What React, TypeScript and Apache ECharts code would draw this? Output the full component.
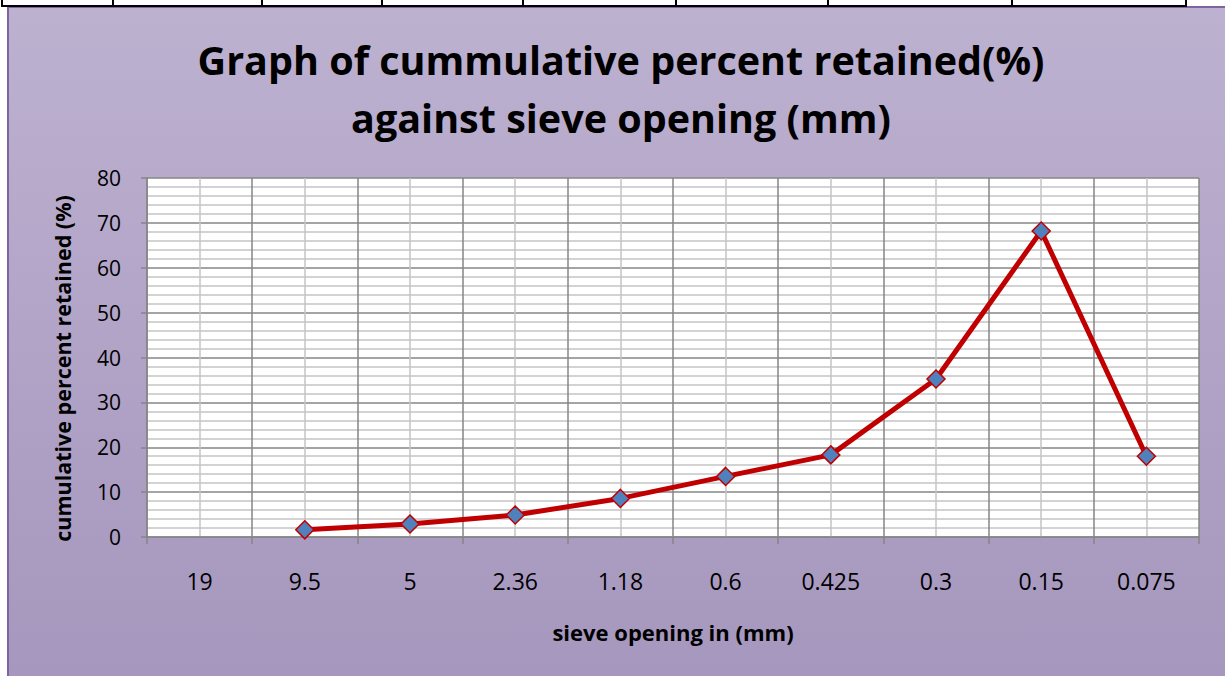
import React, { useEffect, useRef } from "react";
import * as echarts from "echarts";

const categories = ["19", "9.5", "5", "2.36", "1.18", "0.6", "0.425", "0.3", "0.15", "0.075"];
const retained: (number | null)[] = [null, 1.6, 2.9, 4.9, 8.6, 13.5, 18.3, 35.2, 68.2, 18.0];
const titleText = "Graph of cummulative percent retained(%)\nagainst sieve opening (mm)";
const yName = "cumulative percent retained (%)";
const xName = "sieve opening in (mm)";
const tableLinesX = [2, 113, 262, 382, 523, 676, 828, 1012, 1186];

const FONT = "'Open Sans', 'Noto Sans', sans-serif";

export default function App() {
  const ref = useRef<HTMLDivElement>(null);
  useEffect(() => {
    document.body.style.margin = "0";
    const chart = echarts.init(ref.current!, null, { renderer: "svg" });
    const graphics: any[] = [
      {
        type: "rect",
        shape: { x: 8, y: 7, width: 1230, height: 690 },
        style: {
          fill: new echarts.graphic.LinearGradient(0, 0, 0, 1, [
            { offset: 0, color: "#bdb1d0" },
            { offset: 1, color: "#a596bd" },
          ]),
          stroke: "#8064a2",
          lineWidth: 2,
        },
        z: -10,
        silent: true,
      },
      {
        type: "line",
        shape: { x1: 2, y1: 6, x2: 1186, y2: 6 },
        style: { stroke: "#000", lineWidth: 2 },
        silent: true,
      },
      ...tableLinesX.map((x) => ({
        type: "line",
        shape: { x1: x, y1: 0, x2: x, y2: 7 },
        style: { stroke: "#000", lineWidth: 2 },
        silent: true,
      })),
    ];
    chart.setOption({
      animation: false,
      backgroundColor: "#ffffff",
      textStyle: { fontFamily: FONT },
      graphic: graphics,
      title: {
        text: titleText,
        left: 616,
        textAlign: "center",
        top: 26,
        textStyle: {
          fontFamily: FONT,
          fontSize: 39.5,
          fontWeight: "bold",
          color: "#000",
          lineHeight: 58,
        },
      },
      grid: {
        left: 147,
        top: 178,
        width: 1052,
        height: 359,
        show: true,
        backgroundColor: "#ffffff",
        borderWidth: 0,
      },
      xAxis: [
        {
          type: "category",
          data: categories,
          boundaryGap: true,
          name: xName,
          nameLocation: "middle",
          nameGap: 84,
          nameTextStyle: { fontFamily: FONT, fontSize: 22, fontWeight: "bold", color: "#000" },
          axisLine: { show: true, lineStyle: { color: "#868686", width: 1.5 } },
          axisTick: { show: true, length: 7, lineStyle: { color: "#868686", width: 1.5 } },
          axisLabel: { fontFamily: FONT, fontSize: 23, color: "#000", margin: 32 },
          splitLine: { show: true, lineStyle: { color: "#868686", width: 1.5 } },
          z: 3,
        },
        {
          type: "value",
          min: 0,
          max: 10,
          interval: 1,
          show: true,
          axisLine: { show: false },
          axisTick: { show: false },
          axisLabel: { show: false },
          splitLine: { show: false },
          minorTick: { show: false, splitNumber: 2 },
          minorSplitLine: { show: true, lineStyle: { color: "#c4c4c4", width: 1.5 } },
          position: "bottom",
          z: 1,
        },
      ],
      yAxis: {
        type: "value",
        min: 0,
        max: 80,
        interval: 10,
        name: yName,
        nameLocation: "middle",
        nameRotate: 90,
        nameGap: 74,
        nameTextStyle: {
          fontFamily: FONT,
          fontSize: 21.5,
          fontWeight: "bold",
          color: "#000",
          padding: [0, 22, 0, 0],
        },
        axisLine: { show: true, lineStyle: { color: "#868686", width: 1.5 } },
        axisTick: { show: true, length: 6, lineStyle: { color: "#868686", width: 1.5 } },
        axisLabel: { fontFamily: FONT, fontSize: 21, color: "#000", margin: 26 },
        splitLine: { show: true, lineStyle: { color: "#868686", width: 1.5 } },
        minorTick: { show: false, splitNumber: 5 },
        minorSplitLine: { show: true, lineStyle: { color: "#c4c4c4", width: 1.5 } },
      },
      series: [
        {
          type: "line",
          xAxisIndex: 0,
          data: retained,
          connectNulls: false,
          symbol: "diamond",
          symbolSize: 18,
          showAllSymbol: true,
          lineStyle: { color: "#c00000", width: 5 },
          itemStyle: { color: "#4f81bd", borderColor: "#c00000", borderWidth: 1.5 },
          z: 5,
        },
      ],
    });
    return () => chart.dispose();
  }, []);
  return (
    <div
      ref={ref}
      style={{ position: "fixed", left: 0, top: 0, width: 1225, height: 676 }}
    />
  );
}
